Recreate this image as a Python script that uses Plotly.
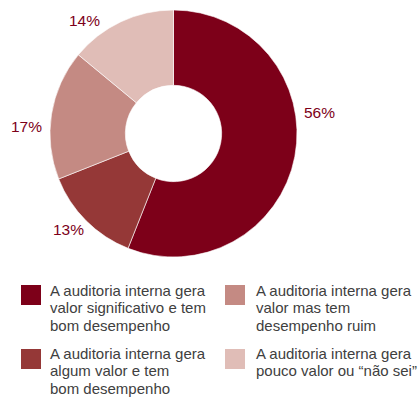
import plotly.graph_objects as go

# Survey shares, in clockwise order starting at 12 o'clock
labels = [
    "A auditoria interna gera\nvalor significativo e tem\nbom desempenho",
    "A auditoria interna gera\nalgum valor e tem\nbom desempenho",
    "A auditoria interna gera\nvalor mas tem\ndesempenho ruim",
    "A auditoria interna gera\npouco valor ou “não sei”",
]
values = [56, 13, 17, 14]
colors = ["#7d0019", "#953837", "#c48a83", "#e0bdb7"]

W, H = 418, 398


def px(x):
    return x / W


def py(y):
    return 1 - y / H


fig = go.Figure(
    go.Pie(
        labels=[l.replace("\n", " ") for l in labels],
        values=values,
        sort=False,
        direction="clockwise",
        rotation=0,
        hole=0.39,
        marker=dict(colors=colors, line=dict(color="white", width=0.6)),
        textinfo="none",
        hoverinfo="label+percent",
        domain=dict(x=[px(50), px(297)], y=[py(257), py(10)]),
        showlegend=False,
    )
)

# percentage labels around the ring
label_pos = [(319, 112.5), (68, 229.5), (26, 126.5), (84, 20.5)]
annotations = []
for v, (x, y) in zip(values, label_pos):
    annotations.append(dict(
        x=px(x), y=py(y), xref="paper", yref="paper",
        text=f"{v}%", showarrow=False, xanchor="center", yanchor="middle",
        font=dict(family="Liberation Sans, Arial", size=15.5, color="#7d0019"),
    ))

# two-column legend drawn with swatches and text lines
swatch_x = [21, 21, 225, 225]
swatch_y = [285, 349, 285, 349]
text_x = [49, 49, 255, 255]
first_mid = [290, 353, 290, 353]
line_step = 17.5
shapes = []
for i, lab in enumerate(labels):
    sx, sy = swatch_x[i], swatch_y[i]
    shapes.append(dict(
        type="rect", xref="paper", yref="paper",
        x0=px(sx), x1=px(sx + 20), y0=py(sy + 20), y1=py(sy),
        fillcolor=colors[i], line=dict(width=0),
    ))
    for j, line in enumerate(lab.split("\n")):
        annotations.append(dict(
            x=px(text_x[i]), y=py(first_mid[i] + j * line_step),
            xref="paper", yref="paper", text=line, showarrow=False,
            xanchor="left", yanchor="middle", borderpad=0,
            font=dict(family="Liberation Sans, Arial", size=15, color="#404040"),
        ))

fig.update_layout(
    width=W, height=H,
    margin=dict(l=0, r=0, t=0, b=0),
    paper_bgcolor="white", plot_bgcolor="white",
    annotations=annotations, shapes=shapes,
)

fig.write_html("out.html")
